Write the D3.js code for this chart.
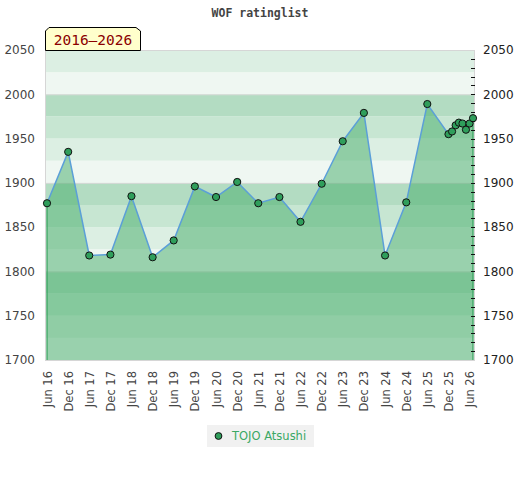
<!doctype html>
<html lang="en">
<head>
  <meta charset="utf-8">
  <title>WOF ratinglist</title>
  <script src="https://d3js.org/d3.v7.min.js"></script>
  <style>
    body { margin: 0; background: #fff; }
    svg { display: block; }
    svg text { font-family: "DejaVu Sans", Verdana, sans-serif; }
  </style>
</head>
<body>
<div class="chart-container"></div>
<script>
  // rating list dates and values
  const dates = ['2016-06', '2016-12', '2017-06', '2017-12', '2018-06', '2018-12',
    '2019-06', '2019-12', '2020-06', '2020-12', '2021-06', '2021-12', '2022-06',
    '2022-12', '2023-06', '2023-12', '2024-06', '2024-12', '2025-06', '2025-12',
    '2026-01', '2026-02', '2026-03', '2026-04', '2026-05', '2026-06', '2026-07'];
  const ratings = [1877, 1935, 1818, 1819, 1885, 1816, 1835, 1896, 1884, 1901,
    1877, 1884, 1856, 1899, 1947, 1979, 1818, 1878, 1989, 1955, 1958, 1965,
    1968, 1967, 1960, 1967, 1973];
  const yTicks = [1700, 1750, 1800, 1850, 1900, 1950, 2000, 2050];
  const playerName = 'TOJO Atsushi';
  const periodLabel = '2016–2026';

  const width = 520;
  const height = 480;
  const plot = { left: 45, right: 475, top: 50, bottom: 360 };

  const parse = d3.utcParse('%Y-%m');
  const data = dates.map((d, i) => ({ date: parse(d), value: ratings[i] }));

  const svg = d3.select('.chart-container').append('svg')
    .attr('width', width)
    .attr('height', height);

  const x = d3.scaleUtc()
    .domain(d3.extent(data, d => d.date))
    .range([plot.left + 2, plot.right - 2]);

  const y = d3.scaleLinear()
    .domain([1700, 2050])
    .range([plot.bottom, plot.top]);

  // background bands, 25 points each, four shades per hundred
  const bandColours = ['#b3dcc2', '#c7e6d2', '#dcefe3', '#eff7f2'];
  const bands = d3.range(1700, 2050, 25);
  svg.append('g')
    .selectAll('rect')
    .data(bands)
    .join('rect')
    .attr('x', plot.left)
    .attr('width', plot.right - plot.left)
    .attr('y', d => y(d + 25))
    .attr('height', d => y(d) - y(d + 25))
    .attr('fill', d => bandColours[(2075 - d) / 25 % 4]);

  svg.append('g')
    .selectAll('line')
    .data([1800, 1900, 2000])
    .join('line')
    .attr('x1', plot.left)
    .attr('x2', plot.right)
    .attr('y1', d => y(d) + 0.5)
    .attr('y2', d => y(d) + 0.5)
    .attr('stroke', '#d8d8d8');

  svg.append('rect')
    .attr('x', plot.left + 0.5)
    .attr('y', plot.top + 0.5)
    .attr('width', plot.right - plot.left - 1)
    .attr('height', plot.bottom - plot.top)
    .attr('fill', 'none')
    .attr('stroke', '#d6d6d6');

  // area under the line
  const area = d3.area()
    .x(d => x(d.date))
    .y0(y(1700))
    .y1(d => y(d.value));

  svg.append('path')
    .datum(data)
    .attr('d', area)
    .attr('fill', 'rgb(67,171,104)')
    .attr('fill-opacity', 0.5);

  const ends = [data[0], data[data.length - 1]];
  svg.append('g')
    .selectAll('line')
    .data(ends)
    .join('line')
    .attr('x1', d => x(d.date))
    .attr('x2', d => x(d.date))
    .attr('y1', d => y(d.value))
    .attr('y2', y(1700))
    .attr('stroke', '#35a15c')
    .attr('stroke-width', 1.2);

  const line = d3.line()
    .x(d => x(d.date))
    .y(d => y(d.value));

  svg.append('path')
    .datum(data)
    .attr('d', line)
    .attr('fill', 'none')
    .attr('stroke', '#5b9fd8')
    .attr('stroke-width', 1.5);

  svg.append('g')
    .selectAll('circle')
    .data(data)
    .join('circle')
    .attr('cx', d => x(d.date))
    .attr('cy', d => y(d.value))
    .attr('r', 3.6)
    .attr('fill', '#2f9e5b')
    .attr('stroke', '#111')
    .attr('stroke-width', 1);

  // left axis
  const yLeft = svg.append('g')
    .attr('transform', `translate(${plot.left - 10},0)`)
    .call(d3.axisLeft(y).tickValues(yTicks).tickSize(0).tickPadding(0).tickFormat(d3.format('d')));
  yLeft.select('.domain').remove();
  yLeft.selectAll('text')
    .attr('fill', '#444')
    .style('font-family', '"DejaVu Sans", sans-serif')
    .style('font-size', '12px');

  // right axis with small ticks inside the plot
  const yRight = svg.append('g')
    .attr('transform', `translate(${plot.right},0)`)
    .call(d3.axisRight(y).tickValues(yTicks).tickSize(0).tickPadding(8).tickFormat(d3.format('d')));
  yRight.select('.domain').remove();
  yRight.selectAll('text')
    .attr('fill', '#222')
    .style('font-family', '"DejaVu Sans", sans-serif')
    .style('font-size', '12px');

  svg.append('g')
    .selectAll('line')
    .data(d3.range(1710, 2050, 10))
    .join('line')
    .attr('x1', plot.right - 4)
    .attr('x2', plot.right)
    .attr('y1', d => Math.round(y(d)) + 0.5)
    .attr('y2', d => Math.round(y(d)) + 0.5)
    .attr('stroke', '#111');

  // bottom axis, ticks every June and December
  const xTicks = d3.utcMonth.range(parse('2016-06'), parse('2026-07'))
    .filter(d => d.getUTCMonth() === 5 || d.getUTCMonth() === 11);

  const xAxis = svg.append('g')
    .attr('transform', `translate(0,${plot.bottom})`)
    .call(d3.axisBottom(x).tickValues(xTicks).tickSize(0).tickFormat(d3.utcFormat('%b %y')));
  xAxis.select('.domain').remove();
  xAxis.selectAll('text')
    .attr('transform', 'rotate(-90)')
    .attr('x', -11)
    .attr('y', 0)
    .attr('dy', '0.35em')
    .style('text-anchor', 'end')
    .attr('fill', '#444')
    .style('font-family', '"DejaVu Sans", sans-serif')
    .style('font-size', '11.5px');

  // title
  svg.append('text')
    .attr('x', width / 2)
    .attr('y', 17)
    .attr('text-anchor', 'middle')
    .style('font-family', '"DejaVu Sans Mono", monospace')
    .style('font-size', '11.5px')
    .style('font-weight', 'bold')
    .attr('fill', '#444')
    .text('WOF ratinglist');

  // period badge
  const bx0 = plot.left, bx1 = 140, by0 = 27, by1 = plot.top, c = 4;
  svg.append('path')
    .attr('d', `M${bx0 + 0.5},${by1 + 0.5} L${bx0 + 0.5},${by0 + c} L${bx0 + c},${by0 + 0.5}
      L${bx1 - c},${by0 + 0.5} L${bx1 + 0.5},${by0 + c} L${bx1 + 0.5},${by1 + 0.5} Z`)
    .attr('fill', '#ffffcc')
    .attr('stroke', '#000');

  svg.append('text')
    .attr('x', (bx0 + bx1) / 2 + 0.5)
    .attr('y', 45)
    .attr('text-anchor', 'middle')
    .style('font-family', '"DejaVu Sans Mono", monospace')
    .style('font-size', '14.5px')
    .attr('fill', '#8b0000')
    .text(periodLabel);

  // legend
  const legend = svg.append('g').attr('transform', 'translate(207,425)');
  legend.append('rect')
    .attr('width', 107)
    .attr('height', 22)
    .attr('fill', '#f1f1f1');
  legend.append('circle')
    .attr('cx', 11.5)
    .attr('cy', 11)
    .attr('r', 3.4)
    .attr('fill', '#2f9e5b')
    .attr('stroke', '#111');
  legend.append('text')
    .attr('x', 25)
    .attr('y', 15)
    .style('font-family', '"DejaVu Sans", sans-serif')
    .style('font-size', '11.5px')
    .attr('fill', '#3aa864')
    .text(playerName);
</script>
</body>
</html>
